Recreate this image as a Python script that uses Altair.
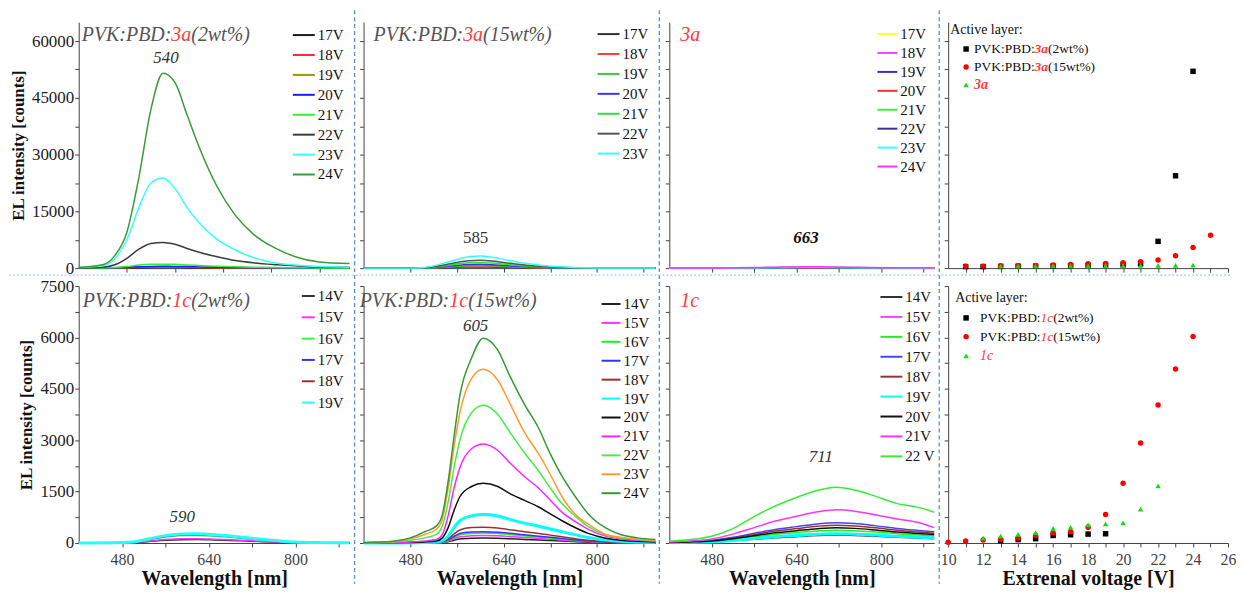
import math
import altair as alt
import pandas as pd

FONT = "Liberation Serif"
TXT_GRAY = "#555555"
RED = "#ff3b3b"
AXC = "#444444"

# ---------------- top row : 3a ----------------
nm_A = [400, 440, 460, 480, 500, 520, 540, 560, 580, 600, 630, 660, 690, 730, 760, 800, 850]
curves_A = {
    "17V": [2, 8, 25, 60, 120, 150, 160, 150, 130, 110, 80, 60, 40, 25, 18, 10, 6],
    "18V": [3, 10, 40, 100, 200, 250, 260, 250, 220, 180, 130, 95, 65, 40, 28, 18, 10],
    "19V": [5, 15, 60, 150, 280, 340, 360, 340, 300, 250, 180, 130, 90, 55, 40, 25, 15],
    "20V": [5, 20, 80, 200, 380, 460, 480, 460, 400, 330, 240, 170, 120, 70, 50, 30, 20],
    "21V": [10, 40, 150, 400, 800, 1000, 1050, 1000, 850, 700, 500, 350, 250, 150, 100, 60, 40],
    "22V": [50, 250, 900, 2600, 5000, 6500, 6800, 6300, 5200, 4200, 3000, 2000, 1400, 900, 600, 300, 200],
    "23V": [150, 700, 2500, 7500, 16000, 22500, 23800, 21000, 16000, 12000, 7600, 4800, 2800, 1300, 800, 400, 250],
    "24V": [200, 900, 3300, 9500, 24000, 42000, 51500, 49000, 40500, 32000, 21500, 14000, 9000, 5000, 3000, 1600, 1200],
}
colors_A = ["#1a1a1a", "#ff2a2a", "#999900", "#1a1aff", "#33ee33", "#3c3c3c", "#33ffff", "#3a9a3a"]

nm_B = [400, 480, 500, 520, 540, 560, 580, 600, 620, 640, 660, 680, 700, 730, 760, 800, 850, 900]
curves_B = {
    "17V": [0, 0, 10, 50, 130, 210, 280, 300, 270, 215, 160, 110, 75, 36, 15, 5, 3, 3],
    "18V": [0, 0, 15, 85, 210, 360, 460, 500, 450, 360, 260, 185, 120, 60, 25, 8, 4, 4],
    "19V": [0, 0, 20, 120, 300, 500, 650, 700, 630, 500, 370, 260, 170, 85, 35, 10, 5, 5],
    "20V": [0, 0, 30, 170, 430, 720, 930, 1000, 900, 720, 520, 370, 250, 120, 50, 15, 8, 8],
    "21V": [0, 0, 40, 250, 650, 1100, 1400, 1500, 1350, 1080, 790, 560, 370, 190, 70, 20, 10, 10],
    "22V": [0, 0, 60, 350, 900, 1500, 1950, 2100, 1900, 1500, 1100, 780, 520, 260, 100, 30, 20, 20],
    "23V": [0, 0, 100, 600, 1400, 2300, 3000, 3200, 2900, 2300, 1700, 1200, 800, 400, 150, 50, 50, 50],
}
colors_B = ["#333333", "#ff4040", "#33cc33", "#3333ff", "#33dd33", "#555555", "#33ffff"]

nm_C = [400, 500, 560, 600, 640, 663, 700, 760, 800, 850, 900]
curves_C = {
    "17V": [5, 8, 20, 30, 40, 45, 40, 28, 18, 10, 8],
    "18V": [5, 10, 30, 45, 60, 65, 60, 40, 25, 15, 10],
    "19V": [8, 15, 40, 60, 80, 85, 80, 50, 30, 20, 15],
    "20V": [10, 20, 50, 80, 100, 110, 100, 65, 40, 25, 20],
    "21V": [10, 25, 60, 100, 130, 140, 130, 85, 55, 30, 25],
    "22V": [15, 30, 80, 130, 170, 180, 170, 110, 70, 40, 30],
    "23V": [20, 40, 100, 160, 200, 220, 200, 130, 80, 50, 40],
    "24V": [30, 60, 150, 250, 320, 350, 320, 200, 120, 80, 60],
}
colors_C = ["#ffff33", "#ff44ff", "#3333cc", "#ff3333", "#44ee44", "#333399", "#33ffff", "#ff33ff"]

# ---------------- bottom row : 1c ----------------
nm_E = [400, 460, 500, 530, 560, 590, 620, 650, 680, 710, 740, 770, 800, 850, 900]
curves_E = {
    "14V": [0, 2, 11, 45, 80, 98, 100, 90, 75, 56, 38, 23, 11, 4, 2],
    "15V": [0, 3, 14, 56, 100, 122, 125, 112, 94, 70, 48, 29, 14, 5, 3],
    "16V": [0, 4, 24, 99, 176, 216, 220, 198, 165, 123, 84, 51, 24, 9, 4],
    "17V": [0, 5, 26, 108, 192, 235, 240, 216, 180, 134, 91, 55, 26, 10, 5],
    "18V": [0, 5, 29, 117, 208, 255, 260, 234, 195, 146, 99, 60, 29, 10, 5],
    "19V": [0, 5, 30, 122, 216, 265, 270, 243, 203, 151, 103, 62, 30, 11, 5],
}
colors_E = ["#333333", "#ff33ff", "#33ff33", "#3333ff", "#993333", "#22ffff"]

nm_F = [400, 450, 480, 505, 525, 535, 545, 555, 565, 585, 605, 630, 650, 675, 700, 720, 740, 765, 785, 815, 840, 870, 900]
curves_F = {
    "14V": [0, 0, 0, 4, 7, 12, 36, 80, 120, 140, 145, 138, 125, 105, 88, 72, 57, 38, 25, 13, 8, 5, 3],
    "15V": [0, 0, 0, 5, 10, 18, 55, 120, 180, 210, 220, 210, 190, 160, 133, 110, 87, 58, 38, 20, 12, 7, 4],
    "16V": [0, 0, 0, 6, 12, 25, 75, 160, 240, 280, 290, 275, 250, 210, 175, 145, 115, 77, 50, 26, 16, 9, 6],
    "17V": [0, 0, 0, 8, 15, 30, 90, 190, 280, 320, 330, 315, 285, 240, 200, 165, 130, 88, 58, 30, 18, 10, 8],
    "18V": [0, 0, 0, 10, 20, 40, 120, 260, 380, 450, 460, 440, 390, 330, 280, 230, 180, 120, 80, 40, 25, 15, 10],
    "19V": [0, 0, 5, 15, 30, 70, 200, 450, 650, 790, 830, 790, 690, 580, 490, 410, 330, 230, 160, 85, 50, 30, 20],
    "20V": [0, 5, 15, 30, 60, 150, 450, 950, 1350, 1650, 1745, 1650, 1450, 1250, 1050, 850, 650, 430, 280, 140, 80, 50, 30],
    "21V": [0, 10, 30, 60, 100, 250, 800, 1600, 2200, 2750, 2890, 2700, 2350, 1950, 1600, 1250, 900, 600, 400, 200, 120, 80, 50],
    "22V": [5, 30, 80, 150, 250, 500, 1200, 2200, 3000, 3800, 4020, 3750, 3250, 2650, 2100, 1600, 1150, 750, 480, 240, 150, 100, 70],
    "23V": [10, 40, 120, 250, 400, 700, 1600, 2800, 3800, 4800, 5070, 4750, 4100, 3250, 2600, 2000, 1350, 800, 550, 250, 170, 110, 80],
    "24V": [10, 50, 150, 330, 500, 830, 1800, 3100, 4300, 5400, 5980, 5630, 4900, 4070, 3350, 2600, 1950, 1300, 850, 440, 250, 150, 100],
}
colors_F = ["#222222", "#ff33ff", "#22ee22", "#3333ff", "#993333", "#00ffff", "#111111",
            "#ff22ff", "#44ee44", "#ff9933", "#339933"]

nm_G = [400, 440, 480, 520, 560, 600, 640, 680, 715, 750, 790, 830, 870, 900]
curves_G = {
    "14V": [9, 16, 30, 64, 110, 154, 186, 216, 230, 221, 196, 166, 143, 127],
    "15V": [11, 20, 36, 78, 134, 188, 227, 263, 280, 269, 238, 202, 174, 154],
    "16V": [15, 26, 49, 105, 180, 251, 304, 353, 375, 360, 319, 270, 233, 206],
    "17V": [24, 41, 77, 165, 283, 395, 478, 555, 590, 566, 500, 425, 366, 325],
    "18V": [21, 36, 68, 146, 250, 348, 421, 489, 520, 499, 442, 374, 322, 286],
    "19V": [11, 19, 35, 76, 130, 181, 219, 254, 270, 259, 230, 194, 167, 149],
    "20V": [18, 31, 58, 125, 214, 298, 360, 418, 445, 427, 378, 320, 276, 245],
    "21V": [30, 60, 120, 260, 450, 640, 780, 910, 970, 930, 820, 700, 600, 450],
    "22 V": [50, 100, 200, 420, 770, 1080, 1330, 1540, 1630, 1550, 1360, 1150, 1040, 900],
}
colors_G = ["#333333", "#ff44ff", "#22ee22", "#4444ff", "#993333", "#00ffff", "#111111", "#ff33ff", "#33ee33"]

# ---------------- voltage dependence ----------------
top_groups = ["PVK:PBD:3a(2wt%)", "PVK:PBD:3a(15wt%)", "3a"]
top_v_black = [11, 12, 13, 14, 15, 16, 17, 18, 19, 20, 21, 22, 23, 24]
top_i_black = [400, 400, 450, 500, 500, 550, 600, 700, 800, 900, 1100, 7070, 24400, 52000]
top_v_red = [11, 12, 13, 14, 15, 16, 17, 18, 19, 20, 21, 22, 23, 24, 25]
top_i_red = [530, 530, 620, 620, 700, 800, 970, 1150, 1240, 1410, 1680, 2120, 3270, 5480, 8660]
top_v_green = [13, 14, 15, 16, 17, 18, 19, 20, 21, 22, 23, 24]
top_i_green = [500, 550, 550, 600, 600, 600, 650, 650, 700, 700, 750, 800]

bot_groups = ["PVK:PBD:1c(2wt%)", "PVK:PBD:1c(15wt%)", "1c"]
bot_v_black = [13, 14, 15, 16, 17, 18, 19]
bot_i_black = [70, 100, 125, 220, 240, 260, 270]
bot_v_red = [10, 11, 12, 13, 14, 15, 16, 17, 18, 19, 20, 21, 22, 23, 24]
bot_i_red = [20, 60, 90, 110, 145, 220, 290, 330, 460, 830, 1745, 2920, 4030, 5080, 6025]
bot_v_green = [12, 13, 14, 15, 16, 17, 18, 19, 20, 21, 22]
bot_i_green = [145, 200, 250, 300, 430, 460, 530, 560, 590, 990, 1670]

# peak annotations (wavelength, intensity, label)
peak_A = [545, 55500, "540"]
peak_B = [592, 7900, "585"]
peak_C = [658, 7900, "663"]
peak_E = [591, 760, "590"]
peak_F = [592, 6340, "605"]
peak_G = [686, 2500, "711"]

y_top_ticks = [0, 7500, 15000, 22500, 30000, 37500, 45000, 52500, 60000]
y_bot_ticks = [0, 750, 1500, 2250, 3000, 3750, 4500, 5250, 6000, 6750, 7500]
x_nm_ticks = [480, 560, 640, 720, 800, 880]
x_nm_ticks_A = [480, 560, 640, 720, 800]
v_top_ticks = [11, 12, 13, 14, 15, 16, 17, 18, 19, 20, 21, 22, 23, 24, 25, 26]
v_bot_ticks = [10, 11, 12, 13, 14, 15, 16, 17, 18, 19, 20, 21, 22, 23, 24, 25, 26]

# ---------------- layout (plot-area sizes) ----------------
W = [272, 293, 266, 281]
H_TOP, H_BOT = 247, 258


def long_df(nm, curves):
    rows = []
    for s, vals in curves.items():
        for w, v in zip(nm, vals):
            rows.append({"nm": w, "I": v, "s": s})
    return pd.DataFrame(rows)


def x_axis(vals, labeled, title):
    if labeled:
        test = " || ".join(f"datum.value == {v}" for v in labeled)
        return alt.Axis(values=vals, labelExpr=f"({test}) ? datum.label : ''", format="d",
                        title=title, titleFont=FONT, titleFontSize=20, titleFontWeight="bold",
                        titleColor="#111111", titlePadding=1, labelFont=FONT, labelFontSize=16,
                        labelColor="#444444", labelPadding=5, tickSize=4, tickColor=AXC,
                        domainColor=AXC, grid=False, labelOverlap=False, labelFlush=False)
    return alt.Axis(values=vals, labels=False, title="", tickSize=4, tickColor=AXC,
                    domainColor=AXC, grid=False)


def y_axis(vals, step, title):
    if step:
        return alt.Axis(values=vals, labelExpr=f"datum.value % {step} === 0 ? datum.label : ''",
                        format="d", title=title, titleFont=FONT, titleFontSize=17,
                        titleFontWeight="bold", titleColor="#111111", titlePadding=4,
                        labelFont=FONT, labelFontSize=17, labelColor="#222222", labelPadding=1,
                        tickSize=4, tickColor=AXC, domainColor=AXC, grid=False, labelOverlap=False)
    return alt.Axis(values=vals, labels=False, title="", tickSize=4, tickColor=AXC,
                    domainColor=AXC, grid=False)


def px_text(x, y, text, color, align="left", size=20, style="italic", weight="normal"):
    return alt.Chart(alt.Data(values=[{}])).mark_text(
        text=text, align=align, baseline="middle", font=FONT, fontSize=size,
        fontStyle=style, fontWeight=weight, color=color
    ).encode(x=alt.value(x), y=alt.value(y))


def spectral_panel(nm, curves, colors, width, height, xdom, ydom, yvals, ystep, xvals,
                   first_col, bottom, leg, titles, peak, peak_style, thick=None, extra=None):
    df = long_df(nm, curves)
    order = list(curves.keys())
    xs = alt.Scale(domain=xdom, nice=False, zero=False)
    ys = alt.Scale(domain=ydom, nice=False, zero=False)
    xa = x_axis(xvals, [480, 640, 800] if bottom else None, "Wavelength [nm]" if bottom else "")
    ya = y_axis(yvals, ystep if first_col else None, "EL intensity [counts]" if first_col else "")
    L, lx, ly, pitch = leg
    h_entry = max(math.ceil(L + 2), 15)
    legend = alt.Legend(orient="none", legendX=lx, legendY=ly - h_entry / 2, title=None,
                        symbolType="stroke", symbolSize=L * L, symbolStrokeWidth=2,
                        labelFont=FONT, labelFontSize=15, labelColor="#111111", labelOffset=2,
                        rowPadding=pitch - h_entry, padding=0)
    if thick is None:
        sw = alt.value(1.5)
    else:
        sw = alt.condition(alt.datum.s == thick, alt.value(3), alt.value(1.5))
    lines = alt.Chart(df).mark_line(interpolate="monotone").encode(
        x=alt.X("nm:Q", scale=xs, axis=xa),
        y=alt.Y("I:Q", scale=ys, axis=ya),
        color=alt.Color("s:N", scale=alt.Scale(domain=order, range=colors), legend=legend),
        strokeWidth=sw,
    )
    pk_df = pd.DataFrame({"nm": [peak[0]], "I": [peak[1]], "t": [peak[2]]})
    pk = alt.Chart(pk_df).mark_text(
        font=FONT, fontSize=17, fontStyle=peak_style[0], fontWeight=peak_style[1],
        color=peak_style[2]
    ).encode(x=alt.X("nm:Q", scale=xs, axis=xa), y=alt.Y("I:Q", scale=ys, axis=ya), text="t:N")
    layers = [lines, pk] + [px_text(*t) for t in titles] + (extra or [])
    return alt.layer(*layers).properties(width=width, height=height)


def scatter_panel(groups, data, width, height, ydom, yvals, xvals, bottom, leg_title, leg_rows, red_style):
    rows = []
    for g, (vs, ivs) in zip(groups, data):
        for v, i in zip(vs, ivs):
            rows.append({"v": v, "I": i, "g": g})
    df = pd.DataFrame(rows)
    xs = alt.Scale(domain=[10, 26], nice=False, zero=False)
    ys = alt.Scale(domain=ydom, nice=False, zero=False)
    if bottom:
        xa = x_axis(xvals, [10, 12, 14, 16, 18, 20, 22, 24, 26], "Extrenal voltage [V]")
    else:
        xa = x_axis(xvals, None, "")
    ya = y_axis(yvals, None, "")
    pts = alt.Chart(df).mark_point(filled=True, opacity=1, size=30).encode(
        x=alt.X("v:Q", scale=xs, axis=xa),
        y=alt.Y("I:Q", scale=ys, axis=ya),
        color=alt.Color("g:N", scale=alt.Scale(domain=groups, range=["#000000", "#ff0000", "#11dd11"]), legend=None),
        shape=alt.Shape("g:N", scale=alt.Scale(domain=groups, range=["square", "circle", "triangle-up"]), legend=None),
    )
    layers = [pts]
    tx, ty = leg_title
    layers.append(px_text(tx, ty, "Active layer:", "#111111", "left", 14, "normal"))
    shapes = ["square", "circle", "triangle-up"]
    cols = ["#000000", "#ff0000", "#11dd11"]
    sx, x0, ys_ = leg_rows
    code = groups[2]
    cw = 13.5 if code == "3a" else 12.7
    fs, fw = red_style
    pvk_w = 60.8
    for i in range(3):
        y = ys_[i]
        layers.append(alt.Chart(alt.Data(values=[{}])).mark_point(
            shape=shapes[i], filled=True, color=cols[i], opacity=1, size=30
        ).encode(x=alt.value(sx), y=alt.value(y)))
        if i < 2:
            suffix = "(2wt%)" if i == 0 else "(15wt%)"
            layers.append(px_text(x0 + pvk_w, y, "PVK:PBD:", "#111111", "right", 13.5, "normal"))
            layers.append(px_text(x0 + pvk_w, y, code, RED, "left", 13.5, fs, fw))
            layers.append(px_text(x0 + pvk_w + cw, y, suffix, "#111111", "left", 13.5, "normal"))
        else:
            layers.append(px_text(x0, y, code, RED, "left", 14, fs, fw))
    return alt.layer(*layers).properties(width=width, height=height)


# separators (drawn from panel A, in its pixel frame)
def vsep(x):
    return alt.Chart(alt.Data(values=[{}])).mark_rule(
        color="#5b8fd0", strokeDash=[4, 3], strokeWidth=1.3
    ).encode(x=alt.value(x), y=alt.value(-12), y2=alt.value(564))


hsep = alt.Chart(alt.Data(values=[{}])).mark_rule(
    color="#95b8e3", strokeDash=[2, 2], strokeWidth=1
).encode(x=alt.value(-70), x2=alt.value(1158), y=alt.value(254))
separators = [vsep(277), vsep(583), vsep(864), hsep]

style_it = ("italic", "normal", "#333333")

pA = spectral_panel(nm_A, curves_A, colors_A, W[0], H_TOP, [400, 850], [0, 65000], y_top_ticks, 15000,
                    x_nm_ticks_A, True, False, (22, 214, 13, 19.1),
                    [(93, 13, "PVK:PBD:", TXT_GRAY, "right"), (93, 13, "3a", RED, "left"),
                     (113, 13, "(2wt%)", TXT_GRAY, "left")],
                    peak_A, style_it, extra=separators)
pB = spectral_panel(nm_B, curves_B, colors_B, W[1], H_TOP, [400, 900], [0, 65000], y_top_ticks, None,
                    x_nm_ticks, False, False, (22, 234, 12, 17.7),
                    [(100, 13, "PVK:PBD:", TXT_GRAY, "right"), (100, 13, "3a", RED, "left"),
                     (120, 13, "(15wt%)", TXT_GRAY, "left")],
                    peak_B, ("normal", "normal", "#333333"))
pC = spectral_panel(nm_C, curves_C, colors_C, W[2], H_TOP, [400, 900], [0, 65000], y_top_ticks, None,
                    x_nm_ticks, False, False, (20, 208, 12, 19.0),
                    [(11, 13, "3a", RED, "left")],
                    peak_C, ("italic", "bold", "#111111"))
pD = scatter_panel(top_groups, [(top_v_black, top_i_black), (top_v_red, top_i_red), (top_v_green, top_i_green)],
                   W[3], H_TOP, [0, 65000], y_top_ticks, v_top_ticks, False,
                   (2, 8), (18, 26, [27, 45, 63]), ("italic", "bold"))

pE = spectral_panel(nm_E, curves_E, colors_E, W[0], H_BOT, [400, 900], [0, 7500], y_bot_ticks, 1500,
                    x_nm_ticks, True, True, (13, 223, 10, 20.4),
                    [(94, 15, "PVK:PBD:", TXT_GRAY, "right"), (94, 15, "1c", RED, "left"),
                     (113, 15, "(2wt%)", TXT_GRAY, "left")],
                    peak_E, style_it, thick="19V")
pF = spectral_panel(nm_F, curves_F, colors_F, W[1], H_BOT, [400, 900], [0, 7500], y_bot_ticks, None,
                    x_nm_ticks, False, True, (19, 238, 18, 19.7),
                    [(86, 15, "PVK:PBD:", TXT_GRAY, "right"), (86, 15, "1c", RED, "left"),
                     (105, 15, "(15wt%)", TXT_GRAY, "left")],
                    peak_F, style_it, thick="19V")
pG = spectral_panel(nm_G, curves_G, colors_G, W[2], H_BOT, [400, 900], [0, 7500], y_bot_ticks, None,
                    x_nm_ticks, False, True, (22, 211, 11, 20.8),
                    [(11, 15, "1c", RED, "left")],
                    peak_G, style_it, thick="19V")
pH = scatter_panel(bot_groups, [(bot_v_black, bot_i_black), (bot_v_red, bot_i_red), (bot_v_green, bot_i_green)],
                   W[3], H_BOT, [0, 7500], y_bot_ticks, v_bot_ticks, True,
                   (7, 12), (18, 32, [32, 51, 70]), ("italic", "normal"))

RES = dict(x="independent", y="independent", color="independent", shape="independent")

chart = alt.concat(pA, pB, pC, pD, pE, pF, pG, pH, columns=4,
                   spacing={"row": 18, "column": 14}, bounds="flush") \
    .resolve_scale(**RES) \
    .properties(padding=0, background="white") \
    .configure_view(strokeWidth=0)

chart.save("out.html", embed_options={"renderer": "svg", "actions": False})
